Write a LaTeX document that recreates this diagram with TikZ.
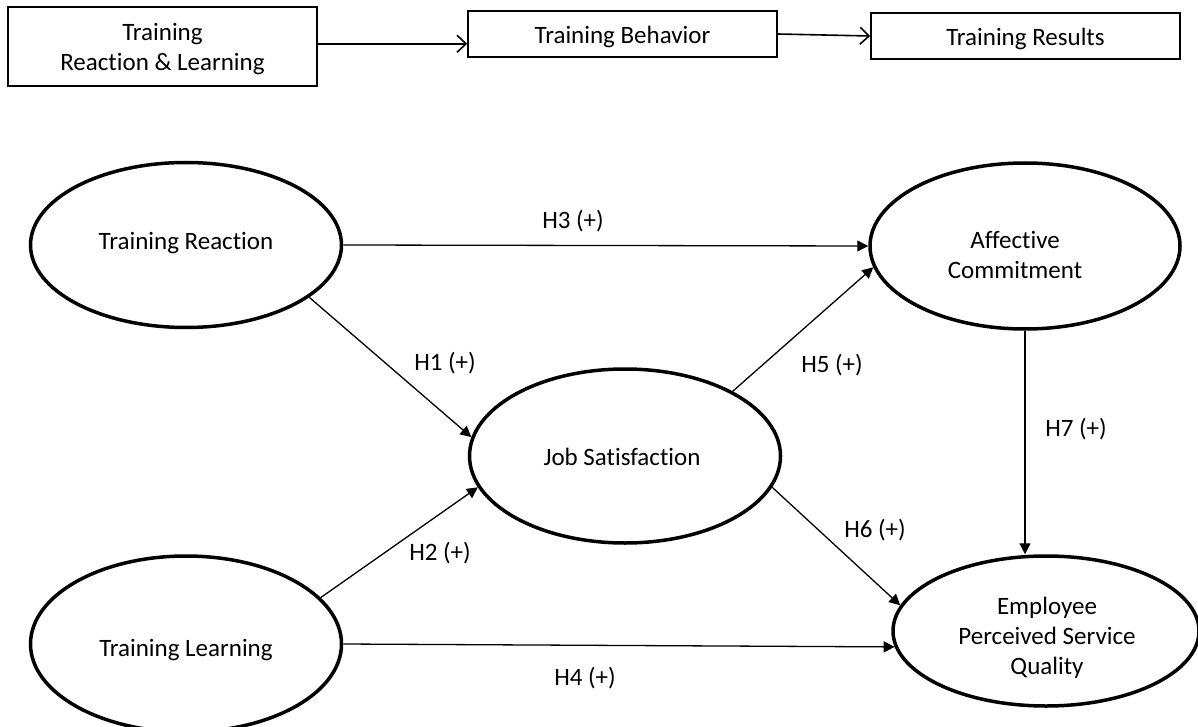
\documentclass[tikz,border=0pt]{standalone}
\usepackage{fontspec}
\setmainfont{Carlito}[Ligatures=NoCommon]
\usetikzlibrary{arrows.meta,shapes.geometric}
\begin{document}
\begin{tikzpicture}[x=1pt,y=-1pt,
  every node/.style={font=\fontsize{25}{30}\selectfont, text=black},
  topbox/.style={draw, line width=1.6pt, rectangle, inner sep=0pt, minimum width=309pt},
  construct/.style={draw, ellipse, line width=3.5pt, inner sep=0pt},
  nodetext/.style={inner sep=0pt, align=center},
  toparrow/.style={line width=1.6pt, -{Straight Barb[length=9pt,width=17pt,line width=1.6pt]}},
  hyparrow/.style={line width=1.3pt, -{Triangle[length=11pt,width=11pt]}},
  hlabel/.style={inner sep=0pt}
]
\useasboundingbox (0,0) rectangle (1198,727);

% top chain
\node[topbox, minimum height=79pt] (B1) at (162.5,46.5) {};
\node[topbox, minimum height=46pt] (B2) at (622.5,34) {};
\node[topbox, minimum height=46pt] (B3) at (1025.5,36) {};
\node[nodetext] (B1t) at (162.5,49.5) {Training\\Reaction \& Learning};
\node[nodetext] (B2t) at (622.5,37) {Training Behavior};
\node[nodetext] (B3t) at (1025.5,38.5) {Training Results};
\draw[toparrow] (B1.1.1) -- (B1.1.1 -| B2.west);
\draw[toparrow] (B2.east) -- (B3.west);

% constructs
\node[construct, minimum width=311pt, minimum height=165pt] (TR) at (186,245) {};
\node[construct, minimum width=310pt, minimum height=166pt] (AC) at (1025,246) {};
\node[construct, minimum width=311pt, minimum height=174pt] (JS) at (625,456) {};
\node[construct, minimum width=311pt, minimum height=176pt] (TL) at (186,644) {};
\node[construct, minimum width=306pt, minimum height=150pt] (EP) at (1046,631) {};
\node[nodetext] (TRt) at (186,243) {Training Reaction};
\node[nodetext] (ACt) at (1015,255) {Affective\\Commitment};
\node[nodetext] (JSt) at (622,457) {Job Satisfaction};
\node[nodetext] (TLt) at (186,650) {Training Learning};
\node[nodetext] (EPt) at (1047,638) {Employee\\Perceived Service\\Quality};

% hypotheses
\draw[hyparrow] (TR.-23) -- (JS.173);
\draw[hyparrow] (TL.19) -- (JS.-168.5);
\draw[hyparrow] (TR.east) -- (AC.west);
\draw[hyparrow] (TL.east) -- (EP.186);
\draw[hyparrow] (JS.31) -- (AC.188);
\draw[hyparrow] (JS.-12) -- (EP.170);
\draw[hyparrow] (AC.south) -- (AC.south |- EP.north);

% labels
\node[hlabel] (L1) at (445,363) {H1 (+)};
\node[hlabel] (L2) at (440,553) {H2 (+)};
\node[hlabel] (L3) at (573,221) {H3 (+)};
\node[hlabel] (L4) at (585,678) {H4 (+)};
\node[hlabel] (L5) at (832,365) {H5 (+)};
\node[hlabel] (L6) at (875,530) {H6 (+)};
\node[hlabel] (L7) at (1076,429) {H7 (+)};
\end{tikzpicture}
\end{document}
